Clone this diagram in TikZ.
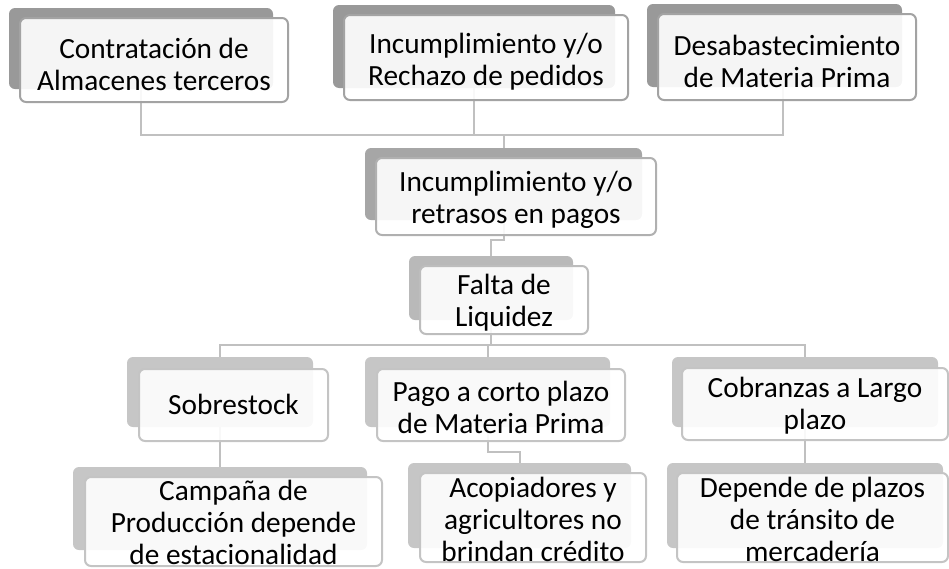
\documentclass[tikz,border=0pt]{standalone}
\usepackage{fontspec}
\setmainfont{Carlito}
\usetikzlibrary{backgrounds}
\definecolor{backA}{HTML}{999999}
\definecolor{backB}{HTML}{A6A6A6}
\definecolor{backC}{HTML}{B9B9B9}
\definecolor{backD}{HTML}{C6C6C6}
\definecolor{edgeA}{HTML}{A3A3A3}
\definecolor{edgeB}{HTML}{B0B0B0}
\definecolor{edgeC}{HTML}{BDBDBD}
\definecolor{edgeD}{HTML}{C4C4C4}
\definecolor{connc}{HTML}{C0C0C0}
\begin{document}
\begin{tikzpicture}[x=1pt,y=1pt,
  backbox/.style={rectangle, rounded corners=6pt, inner sep=0pt, outer sep=0pt},
  frontbox/.style={rectangle, rounded corners=6pt, inner sep=0pt, outer sep=0pt, fill=white, fill opacity=0.9, line width=2pt},
  txt/.style={align=center, inner sep=0pt, font=\fontsize{29.3}{32}\selectfont, text=black},
  conn/.style={draw=connc, line width=2pt}
]
\useasboundingbox (0,0) rectangle (949,-568);
% top row
\node[backbox, fill=backA, minimum width=264, minimum height=81] (c1b) at (141,-48.5) {};
\node[frontbox, draw=edgeA, minimum width=268, minimum height=84] (c1) at (154,-60) {};
\node[txt] (c1t) at (154,-64) {Contratación de\\Almacenes terceros};

\node[backbox, fill=backA, minimum width=282, minimum height=83] (c2b) at (474,-46.5) {};
\node[frontbox, draw=edgeA, minimum width=284, minimum height=85] (c2) at (486,-57.5) {};
\node[txt] (c2t) at (486,-61.5) {Incumplimiento y/o\\Rechazo de pedidos};

\node[backbox, fill=backA, minimum width=255, minimum height=83] (c3b) at (774.5,-45.5) {};
\node[frontbox, draw=edgeA, minimum width=258, minimum height=86] (c3) at (787,-57) {};
\node[txt] (c3t) at (787,-61) {Desabastecimiento\\de Materia Prima};

% level 2
\node[backbox, fill=backB, minimum width=277, minimum height=72] (rb) at (503.5,-184) {};
\node[frontbox, draw=edgeB, minimum width=280, minimum height=77] (r) at (516,-196.5) {};
\node[txt] (rt) at (516,-200) {Incumplimiento y/o\\retrasos en pagos};

% level 3
\node[backbox, fill=backC, minimum width=164, minimum height=64] (fb) at (491,-288) {};
\node[frontbox, draw=edgeC, minimum width=168, minimum height=68] (f) at (504,-300) {};
\node[txt] (ft) at (504,-303) {Falta de\\Liquidez};

% level 4
\node[backbox, fill=backD, minimum width=186, minimum height=70] (sb) at (220,-392) {};
\node[frontbox, draw=edgeD, minimum width=189, minimum height=72] (s) at (233.5,-405) {};
\node[txt] (st) at (233.5,-404) {Sobrestock};

\node[backbox, fill=backD, minimum width=245, minimum height=70] (pb) at (487.5,-392) {};
\node[frontbox, draw=edgeD, minimum width=248, minimum height=72] (p) at (501,-405) {};
\node[txt] (pt) at (501,-407) {Pago a corto plazo\\de Materia Prima};

\node[backbox, fill=backD, minimum width=266, minimum height=70] (kb) at (805,-392) {};
\node[frontbox, draw=edgeD, minimum width=266, minimum height=72] (k) at (815,-404) {};
\node[txt] (kt) at (815,-406) {Cobranzas a Largo\\plazo};

% level 5
\node[backbox, fill=backD, minimum width=294, minimum height=83] (cab) at (220,-508.5) {};
\node[frontbox, draw=edgeD, minimum width=297, minimum height=89] (ca) at (233.5,-521.5) {};
\node[txt] (cat) at (233.5,-522) {Campaña de\\Producción depende\\de estacionalidad};

\node[backbox, fill=backD, minimum width=223, minimum height=85] (ab) at (519.5,-505.5) {};
\node[frontbox, draw=edgeD, minimum width=226, minimum height=89] (a) at (533,-517.5) {};
\node[txt] (at) at (533,-519) {Acopiadores y\\agricultores no\\brindan crédito};

\node[backbox, fill=backD, minimum width=276, minimum height=85] (db) at (805,-505.5) {};
\node[frontbox, draw=edgeD, minimum width=271, minimum height=89] (d) at (812.5,-517.5) {};
\node[txt] (dt) at (812.5,-519) {Depende de plazos\\de tránsito de\\mercadería};

\begin{pgfonlayer}{background}
\coordinate (h1) at (503.5,-135);
\coordinate (h2) at (491,-345);
\draw[conn] (c1b.south) |- (h1);
\draw[conn] (c2b.south) |- (h1);
\draw[conn] ([xshift=8.5pt]c3b.south) |- (h1);
\draw[conn] (h1) -- (rb.north);
\draw[conn] (rb.south) -- ++(0,-20) -| (fb.north);
\draw[conn] (fb.south) -- (h2);
\draw[conn] (h2) -| (sb.north);
\draw[conn] (h2) -| (pb.north);
\draw[conn] (h2) -| (kb.north);
\draw[conn] (sb.south) -- (cab.north);
\draw[conn] (pb.south) -- ++(0,-25) -| (ab.north);
\draw[conn] (kb.south) -- (db.north);
\end{pgfonlayer}
\end{tikzpicture}
\end{document}
